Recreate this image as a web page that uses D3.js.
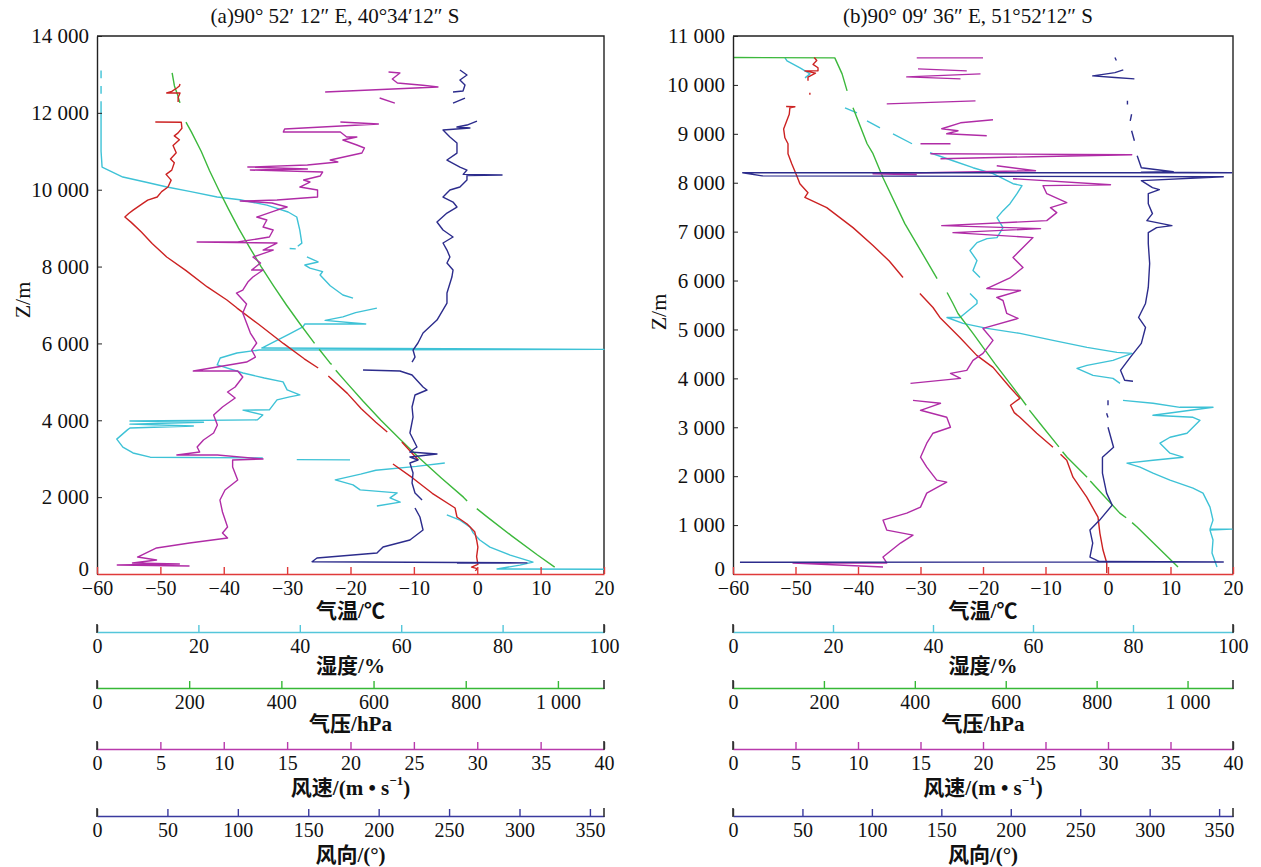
<!DOCTYPE html>
<html><head><meta charset="utf-8">
<script src="https://cdn.jsdelivr.net/npm/d3@7"></script>
<style>body{margin:0;background:#fff}svg{display:block}</style>
</head><body><svg id="c" width="1261" height="867"></svg>
<script>
// ---------------- DATA (altitude m, value) ; null = gap ----------------
const titles = ["(a)90\u00b0 52\u2032 12\u2033 E, 40\u00b034\u203212\u2033 S", "(b)90\u00b0 09\u2032 36\u2033 E, 51\u00b052\u203212\u2033 S"];
const zTicksA = [0,2000,4000,6000,8000,10000,12000,14000];
const zTicksB = [0,1000,2000,3000,4000,5000,6000,7000,8000,9000,10000,11000];
const tempTicks = [-60,-50,-40,-30,-20,-10,0,10,20];
const humTicks = [0,20,40,60,80,100];
const presTicks = [0,200,400,600,800,1000];
const spdTicks = [0,5,10,15,20,25,30,35,40];
const dirTicks = [0,50,100,150,200,250,300,350];

const tempA = [[12750,-46.9],[12698,-47.0],[12646,-47.4],[12560,-48.2],[12516,-49.0],[12516,-46.9],[12400,-47.2],[12282,-47.2],null,
[11761,-50.8],[11755,-46.7],[11600,-46.6],[11480,-47.2],[11400,-47.8],[11300,-47.0],[11150,-48.0],[10960,-47.5],[10800,-48.4],[10700,-47.8],[10510,-48.2],[10400,-49.1],[10250,-48.3],[10070,-48.8],[9950,-49.8],[9810,-50.5],[9730,-52.0],[9650,-52.7],[9470,-54.3],[9380,-55.0],[9290,-55.6],[9150,-54.6],[8900,-53.0],[8600,-51.3],[8250,-49.0],[7900,-46.0],[7470,-42.6],[7130,-39.5],[6920,-37.9],[6500,-34.5],[6000,-30.6],[5600,-27.3],[5360,-25.1],null,
[5150,-23.5],[4700,-20.5],[4300,-18.3],[3950,-16.0],[3695,-14.2],null,
[3435,-11.9],[3200,-10.6],[2966,-9.3],null,
[2862,-13.3],[2500,-10.2],[2100,-7.1],[1717,-3.5],[1483,-3.2],[1300,-1.6],[1100,-0.4],[885,-0.1],[700,0.1],[450,-0.1],[250,0.1],[180,-0.9],[140,0.0],[80,-0.3]];

const humA = [[13100,0.8],[12900,0.8],null,[12700,0.8],[12500,0.8],null,[12300,0.8],[12000,0.8],[11700,0.8],[11400,0.8],[11000,0.8],[10800,0.9],[10590,1.0],[10330,5.1],[10200,9.5],[10070,13.8],[9950,18.5],[9810,23.7],[9740,28.2],[9600,33.5],[9420,37.7],[9290,39.4],[8950,40.0],[8610,40.4],[8530,39.6],null,
[8470,38.0],[8460,39.2],null,
[8250,41.4],[8120,43.6],[8040,41.0],[7960,42.0],[7870,44.5],[7780,44.0],[7500,46.0],[7260,48.5],[7180,50.5],null,
[6920,55.2],[6800,51.0],[6690,48.5],[6600,45.0],[6505,53.0],[6505,41.0],[6430,40.6],[6250,38.0],[6050,35.0],[5880,32.5],[5845,100],[5830,32.0],[5750,27.6],[5620,24.3],[5440,23.7],[5230,28.8],[5100,33.0],[5000,36.7],[4790,37.5],[4660,40.0],[4610,38.0],[4530,35.5],[4270,34.0],[4265,28.8],[4140,32.7],[4010,31.6],[3980,6.5],[3950,21.0],[3900,6.5],[3850,19.0],[3800,6.5],[3750,6.0],[3510,3.9],[3300,5.1],[3150,7.1],[3040,10.5],[3020,32.7],null,
[2975,39.4],[2970,49.9],null,
[2890,68.6],[2800,63.0],[2700,55.0],[2600,52.0],[2450,47.0],[2320,50.5],[2190,51.9],[2110,59.2],[1980,57.8],[1870,59.8],[1770,55.2],null,
[1540,69.0],[1400,71.6],[1220,73.6],[1070,74.2],[885,75.5],[700,77.5],[490,81.5],[310,86.0],[230,83.4],[130,78.9],[125,100]];

const presA = [[180,993],[500,955],[1000,899],[1500,845],[1700,824],null,[1900,803],[2000,795],[2500,747],[3000,701],[3500,658],[4000,616],[4500,577],[5000,540],[5300,518],null,[5450,509],[5500,505],[5850,482],null,[6000,472],[6500,441],[7000,411],[7500,383],[8000,356],[8500,331],[9000,307],[9500,285],[10000,264],[10500,244],[11000,226],[11500,205],[11761,193],null,[12260,180],[12500,174],[12700,168],[13040,163]];

const spdA = [[13062,23.0],[13036,23.9],[12880,23.3],[12776,23.7],[12720,25.7],[12672,26.9],[12600,22.0],[12542,18.0],null,[12386,22.3],[12255,23.5],null,
[11761,19.2],[11709,22.2],[11579,14.8],[11501,14.7],[11501,19.2],[11371,19.7],[11371,20.5],[11293,19.4],[11163,20.5],[11085,21.1],[10954,20.9],[10772,18.4],[10720,19.0],[10642,16.6],[10590,11.9],[10538,16.6],[10512,12.1],[10460,17.8],[10356,17.6],[10252,16.3],[10200,16.8],[10070,16.0],[9992,17.4],[9810,17.4],[9731,14.2],[9705,11.3],[9653,13.8],[9549,15.0],[9471,14.2],[9289,12.6],[9211,13.4],[9029,13.1],[8951,13.9],[8769,13.6],[8639,11.1],[8639,7.9],[8613,14.2],[8430,13.1],[8430,13.9],[8248,12.3],[8092,12.9],[7910,12.2],[7910,13.1],[7728,12.3],[7598,11.9],[7390,11.5],[7312,11.0],[7025,11.8],[6791,11.5],[6531,11.8],[6271,12.1],[6011,12.6],[5828,12.2],[5646,12.5],[5516,11.8],[5282,7.6],[5282,11.1],[5126,11.5],[4866,10.9],[4736,10.3],[4580,10.9],[4345,9.9],[4137,9.2],[3877,9.5],[3669,9.2],[3487,8.4],[3305,7.9],[3174,8.1],[3096,6.3],[3096,9.5],[2992,13.1],[2966,10.7],[2784,10.7],[2446,11.1],[2186,10.1],[1925,9.7],[1613,9.9],[1223,10.3],[1067,9.9],[937,10.3],[807,7.3],[677,4.7],[442,3.2],[364,4.7],[286,2.8],[260,6.5],[234,1.6],[208,7.3]];

const dirA = [[13114,257.7],[12984,262.7],[12854,257.7],[12724,261.3],[12568,259.9],[12542,252.8],null,[12386,261.3],[12255,252.8],null,
[11787,269.8],[11683,262.7],[11631,255.6],[11605,264.8],[11553,245.7],[11371,250.6],[11215,255.6],[10954,255.6],[10772,248.5],[10590,257.7],[10512,262.7],[10400,260.0],[10382,287.6],[10370,262.7],[10252,262.7],[10070,257.7],[9992,250.6],[9810,245.7],[9679,252.8],[9549,255.6],[9393,248.5],[9159,241.4],[8951,245.7],[8769,252.8],[8613,245.7],[8430,248.5],[8248,250.6],[8092,248.5],[7910,252.8],[7728,252.0],[7312,248.5],[7051,248.5],[6609,241.4],[6271,231.5],[6011,227.9],[5828,224.4],[5646,225.8],[5516,223.7],null,
[5308,188.9],[5282,215.1],[5178,223.7],[4866,231.5],[4788,234.3],[4658,225.8],[4345,223.7],[4085,224.4],[3669,222.2],[3305,227.2],[3174,222.2],[3122,241.4],[3044,222.2],[2966,227.9],[2888,222.2],[2628,224.4],[2368,223.7],[2108,225.8],[1925,230.8],null,
[1717,225.8],[1483,229.3],[1145,231.5],[885,222.2],[703,203.1],[546,198.8],[416,156.2],[320,152.7],[290,305.3],[280,255.6]];

const tempB = [[10560,-47.0],[10500,-46.6],[10420,-47.2],[10350,-46.4],[10287,-46.4],[10287,-48.5],[10240,-46.8],[10160,-48.0],[10083,-48.0],null,[9838,-47.7],[9800,-47.7],null,
[9560,-51.5],[9552,-50.1],[9531,-50.9],[9400,-51.0],[9266,-51.4],[9100,-51.9],[8919,-51.7],[8797,-51.2],[8593,-51.2],[8389,-50.6],[8144,-49.8],[7980,-49.3],[7797,-48.0],[7700,-48.5],[7490,-45.0],[7082,-40.8],[6715,-37.6],[6400,-35.0],[6062,-32.8],null,
[5735,-30.1],[5449,-28.0],[5245,-26.9],[4837,-23.7],[4470,-21.0],[4225,-18.4],[3817,-15.7],[3592,-14.1],[3450,-15.6],[3300,-15.0],[3204,-14.1],[2878,-11.4],[2592,-8.8],null,[2450,-7.6],[2327,-6.6],[1980,-5.6],[1572,-3.4],[1163,-1.6],[837,-1.3],[490,-0.8],[225,-0.2],[20,-0.2]];

const humB = [[10552,10.4],[10491,10.8],[10348,13.4],[10225,15.4],[10144,14.4],null,
[9531,22.4],[9429,24.8],null,[9266,26.8],[9123,29.4],null,[9001,32.0],[8797,35.8],null,
[8613,39.4],[8450,44.0],[8307,48.0],[8185,52.0],[8082,54.0],[7980,56.0],[7940,57.8],[7776,56.8],[7572,55.4],[7429,54.0],[7286,52.8],[7082,54.0],[6878,52.8],[6858,50.8],[6776,48.8],[6613,47.4],[6409,48.8],[6205,48.0],[6062,49.4],null,
[5735,47.4],[5592,48.8],[5531,48.8],[5245,45.4],[5245,42.8],[5123,46.0],[5021,50.8],[4919,57.4],[4776,64.0],[4633,70.8],[4531,76.8],[4511,79.8],[4368,76.0],[4266,70.8],[4205,68.8],[4062,72.0],[4000,76.0],[3898,77.4],null,
[3551,78.0],[3490,84.0],[3408,89.4],[3408,96.0],[3245,84.0],[3204,92.0],[3143,93.4],[2878,90.8],[2796,87.4],[2674,85.4],[2470,87.4],[2388,90.0],[2327,84.0],[2266,78.8],[2184,81.4],[2061,84.0],[1919,87.4],[1755,92.0],[1653,94.0],[1367,95.4],[1102,96.0],[918,95.4],[918,99.8],[898,95.4],[694,96.0],[429,95.8],[143,96.8]];

const presB = [[10560,0],[10552,224],[10225,240],[9878,251],null,[9531,264],[8797,295],[8593,308],[8103,330],[7164,378],[6041,449],null,[5756,471],[5531,484],[5327,495],[4919,528],[4300,576],[3817,616],[3450,645],null,[3350,652],[3082,675],[2600,717],null,[2500,725],[2388,735],[1980,779],null,[1900,786],[1245,851],[1150,865],null,[1050,878],[959,889],[143,979]];

const spdB = [[10552,20.0],[10552,14.7],null,[10327,14.8],[10287,18.7],null,[10225,19.8],[10164,13.9],[10123,18.2],null,[9674,19.4],[9613,12.3],null,
[9287,20.8],[9225,18.2],[9103,16.7],[9062,18.0],[9001,17.1],[8960,20.3],null,[8797,17.4],[8797,15.0],null,
[8593,15.8],[8572,31.9],[8531,24.0],[8491,16.6],null,[8348,21.1],[8246,24.2],[8185,11.2],[8164,14.7],null,
[8082,22.4],[7960,30.2],[7940,24.8],[7776,25.1],[7593,26.7],[7490,25.4],[7388,25.9],[7225,25.1],[7123,16.7],[7062,24.6],[6980,17.6],[6878,24.0],[6674,23.2],[6470,22.4],[6266,23.2],[6062,22.2],[5837,20.3],[5796,23.0],[5654,21.1],[5592,21.6],[5327,21.9],[5225,22.8],[5021,20.0],[4776,20.8],[4511,20.0],[4368,19.2],[4164,18.7],[4102,17.4],[4000,18.2],[3898,14.2],null,
[3551,14.4],[3490,16.6],[3347,15.0],[3204,17.1],[3000,17.4],[2878,16.0],[2674,15.5],[2388,15.0],[2184,15.5],[1919,16.3],[1878,17.1],[1653,15.5],[1367,15.0],[1245,13.9],[1102,12.0],[898,12.3],[796,14.4],[633,13.4],[347,12.0],[225,12.3],[225,4.8],[143,12.0]];

const dirB = [[10560,275],[10500,276],null,[10307,281],[10250,275],[10225,269],[10184,259],[10150,275],[10123,289],null,
[9674,284],[9600,284],null,[9400,287],[9266,286],null,[9062,287],[8858,289],null,
[8552,291],[8307,294],[8225,317],[8215,294],[8205,359],[8205,7],[8140,21],[8123,353],[8042,294],[7899,302],[7860,307],[7776,299],[7572,299],[7368,302],[7225,298],[7123,316],[7082,305],[6980,299],[6756,299],[6348,300],[5858,299],[5531,297],[5245,292],[5041,297],[4715,294],[4429,286],[4164,279],[3960,282],[3940,288],null,
[3551,270],[3450,270],null,[3286,269],[3200,270],null,[3000,270],[2592,274],[2388,266],[2061,266],[1653,269],[1408,273],[1102,264],[898,257],[633,259],[347,257],[255,264],[245,353],[240,5]];

// ---------------- DRAWING ----------------
const svg = d3.select("#c");
const loc = d3.formatLocale({decimal:".", thousands:" ", grouping:[3], currency:["",""], minus:"\u2212"});
const fmt = loc.format(",");
const NUM = "Liberation Serif, DejaVu Serif, serif";
const CJK = "Liberation Serif, Noto Sans CJK SC, serif";
const col = {temp:"#cc2222", hum:"#3ec2d6", pres:"#3cb83c", spd:"#b02ca6", dir:"#2c2c8c"};
const axCol = {temp:"#e03a3a", hum:"#54c6da", pres:"#36b836", spd:"#b83aac", dir:"#3a3a9e"};
const DARK = "#333";

function panel(o) {
  const g = svg.append("g");
  const L = o.left, R = o.right, T = 36, B = 574;
  const y = d3.scaleLinear().domain([0, o.zMax]).range([B, T]);
  const sx = {
    temp: d3.scaleLinear().domain([-60,20]).range([L,R]),
    hum: d3.scaleLinear().domain([0,100]).range([L,R]),
    pres: d3.scaleLinear().domain([0,1100]).range([L,R]),
    spd: d3.scaleLinear().domain([0,40]).range([L,R]),
    dir: d3.scaleLinear().domain([0,360]).range([L,R])
  };
  g.append("path").attr("d", `M${L},${T}H${R}V${B}`).attr("fill","none").attr("stroke","#222").attr("stroke-width",1.4);
  const series = [["hum",o.hum],["pres",o.pres],["temp",o.temp],["spd",o.spd],["dir",o.dir]];
  for (const [k, data] of series) {
    const line = d3.line().defined(d => d !== null).x(d => sx[k](d[1])).y(d => y(d[0]));
    g.append("path").datum(data).attr("d", line).attr("fill","none")
      .attr("stroke", col[k]).attr("stroke-width", 1.4).attr("stroke-linejoin","round");
  }
  const ya = g.append("g").attr("transform",`translate(${L},0)`)
    .call(d3.axisLeft(y).tickValues(o.zTicks).tickFormat(fmt).tickSize(-5).tickSizeOuter(0).tickPadding(8));
  ya.select(".domain").attr("stroke","#222").attr("stroke-width",1.4);
  ya.selectAll(".tick line").attr("stroke","#222");
  ya.selectAll("text").attr("font-family",NUM).attr("font-size",21).attr("fill","#111")
    .attr("dy", d => d === 0 ? "0.05em" : "0.32em");
  g.append("text").attr("transform",`translate(${o.zLabX},${o.zLabY}) rotate(-90)`)
    .attr("text-anchor","middle").attr("dominant-baseline","central")
    .attr("font-family",NUM).attr("font-size",22).attr("fill","#111").text("Z/m");
  g.append("text").attr("x",o.titleX).attr("y",16).attr("text-anchor","middle").attr("dominant-baseline","central")
    .attr("font-family",NUM).attr("font-size",21).attr("fill","#111").text(o.title);
  const axes = [
    {k:"temp", yPos:B, ticks:tempTicks, title:["气温/℃"], ty:611},
    {k:"hum", yPos:632, ticks:humTicks, title:["湿度/%"], ty:666},
    {k:"pres", yPos:688, ticks:presTicks, title:["气压/hPa"], ty:724},
    {k:"spd", yPos:749, ticks:spdTicks, title:null, ty:788},
    {k:"dir", yPos:816, ticks:dirTicks, title:["风向/(°)"], ty:855}
  ];
  for (const a of axes) {
    const s = sx[a.k], dom = s.domain();
    const ax = g.append("g").attr("transform",`translate(0,${a.yPos})`)
      .call(d3.axisBottom(s).tickValues(a.ticks).tickFormat(fmt).tickSize(-7).tickSizeOuter(0).tickPadding(7));
    ax.select(".domain").attr("stroke", axCol[a.k]).attr("stroke-width",1.6);
    ax.selectAll(".tick line").attr("stroke", d => (d===dom[0]||d===dom[1]) ? DARK : axCol[a.k]).attr("stroke-width",1.4);
    ax.selectAll("text").attr("font-family",NUM).attr("font-size",20).attr("fill","#111");
    if (a.k !== "temp") {
      for (const v of dom) {
        g.append("line").attr("x1",s(v)).attr("x2",s(v)).attr("y1",a.yPos-8).attr("y2",a.yPos+1)
          .attr("stroke",DARK).attr("stroke-width",1.6);
      }
    } else {
      ax.selectAll(".tick line").attr("stroke", axCol.temp);
    }
    const t = g.append("text").attr("x",(L+R)/2).attr("y",a.ty).attr("text-anchor","middle")
      .attr("dominant-baseline","central").attr("font-family",CJK).attr("font-size",21)
      .attr("font-weight","bold").attr("fill","#111");
    if (a.title) t.text(a.title[0]);
    else {
      t.append("tspan").text("风速/(m • s");
      t.append("tspan").attr("font-size",13).attr("dy",-8).text("−1");
      t.append("tspan").attr("dy",8).text(")");
    }
  }
}

panel({left:97, right:604, zMax:14000, zTicks:zTicksA, title:titles[0], titleX:335, zLabX:22, zLabY:300,
  temp:tempA, hum:humA, pres:presA, spd:spdA, dir:dirA});
panel({left:733, right:1233, zMax:11000, zTicks:zTicksB, title:titles[1], titleX:968, zLabX:658, zLabY:312,
  temp:tempB, hum:humB, pres:presB, spd:spdB, dir:dirB});
</script></body></html>
